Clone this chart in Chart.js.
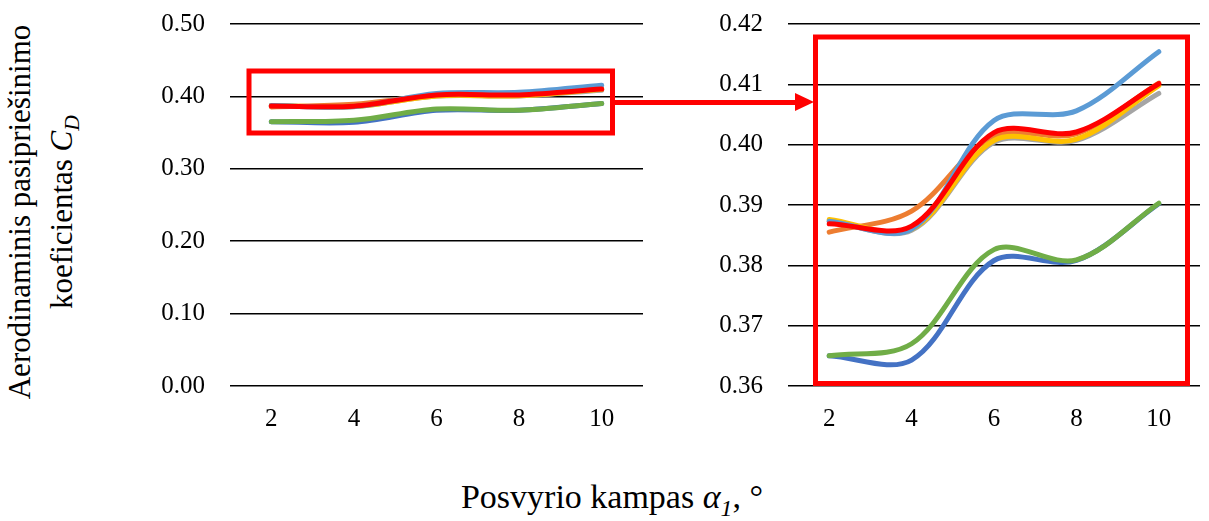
<!DOCTYPE html>
<html>
<head>
<meta charset="utf-8">
<script src="https://cdn.jsdelivr.net/npm/chart.js@4"></script>
<style>
  body { margin: 0; background: #fff; }
  #wrap { position: relative; width: 1209px; height: 521px; overflow: hidden; font-family: 'Liberation Serif', 'Times New Roman', serif; }
  canvas { position: absolute; top: -16px; }
  #left { left: 130px; }
  #right { left: 690px; }
  .ytitle {
    position: absolute; left: 46px; top: 212px; width: 460px;
    transform: translate(-50%, -50%) rotate(-90deg);
    text-align: center; font-size: 31px; line-height: 42px; color: #000;
  }
  .xtitle {
    position: absolute; left: 612px; top: 500px; transform: translate(-50%, -50%);
    font-size: 34px; color: #000; white-space: nowrap;
  }
  .arrow-line { position: absolute; left: 612px; top: 100px; width: 186px; height: 5px; background: #ff0000; }
  .arrow-head {
    position: absolute; left: 795px; top: 93px; width: 0; height: 0;
    border-top: 9.5px solid transparent; border-bottom: 9.5px solid transparent;
    border-left: 19px solid #ff0000;
  }
</style>
</head>
<body>
<div id="wrap">
  <canvas id="left" width="530" height="466"></canvas>
  <canvas id="right" width="519" height="466"></canvas>
  <div class="arrow-line"></div>
  <div class="arrow-head"></div>
  <div class="ytitle">Aerodinaminis pasipriešinimo<br>koeficientas <i>C<sub style="font-size:0.7em">D</sub></i></div>
  <div class="xtitle">Posvyrio kampas <i>α<sub style="font-size:0.7em">1</sub></i>, °</div>
</div>
<script>
// Kategorijos (posvyrio kampas)
const angles = ['2', '4', '6', '8', '10'];

// Serijų reikšmės (nuskaityta nuo paveikslo)
const seriesBlue      = [0.3650, 0.3643, 0.3808, 0.3808, 0.3902];
const seriesOrange    = [0.3855, 0.3890, 0.4015, 0.4018, 0.4102];
const seriesGray      = [0.3873, 0.3858, 0.4004, 0.4007, 0.4085];
const seriesYellow    = [0.3876, 0.3860, 0.4007, 0.4009, 0.4098];
const seriesLightBlue = [0.3873, 0.3860, 0.4040, 0.4056, 0.4154];
const seriesGreen     = [0.3650, 0.3670, 0.3826, 0.3809, 0.3903];
const seriesRed       = [0.3869, 0.3865, 0.4020, 0.4021, 0.4101];

// Ašių ribos
const leftTicks  = [0, 0.5, 0.1];
const rightTicks = [0.36, 0.42, 0.01];

Chart.defaults.font.family = "'Liberation Serif', 'Times New Roman', serif";
Chart.defaults.font.size = 25;
Chart.defaults.color = '#000';

function makeDatasets() {
    // pirmas datasetas piešiamas viršuje, todėl raudona pirma
    const list = [
        [seriesRed, '#ff0000'],
        [seriesGreen, '#70ad47'],
        [seriesLightBlue, '#5b9bd5'],
        [seriesYellow, '#ffc000'],
        [seriesGray, '#a5a5a5'],
        [seriesOrange, '#ed7d31'],
        [seriesBlue, '#4472c4']
    ];
    return list.map(([data, color]) => ({
        data: data,
        borderColor: color,
        borderWidth: 5,
        pointRadius: 0,
        tension: 0.33,
        borderCapStyle: 'round',
        borderJoinStyle: 'round',
        fill: false
    }));
}

// raudonas rėmelis (pagal grafiko sritį)
function boxPlugin(dl, dr, dt, db) {
    return {
        id: 'box',
        afterDatasetsDraw(chart) {
            const a = chart.chartArea;
            const ctx = chart.ctx;
            ctx.save();
            ctx.strokeStyle = '#ff0000';
            ctx.lineWidth = 5;
            ctx.strokeRect(a.left + dl, a.top + dt, (a.right - dr) - (a.left + dl), (a.bottom - db) - (a.top + dt));
            ctx.restore();
        }
    };
}

function makeChart(id, ticks, yWidth, rightPad, box) {
    new Chart(document.getElementById(id), {
        type: 'line',
        data: { labels: angles, datasets: makeDatasets() },
        options: {
            responsive: false,
            animation: false,
            layout: { padding: { top: 8, right: rightPad, left: 0, bottom: 0 } },
            plugins: { legend: { display: false }, tooltip: { enabled: false } },
            scales: {
                x: {
                    offset: true,
                    grid: { display: false, drawTicks: false },
                    border: { display: false },
                    ticks: { padding: 18, maxRotation: 0 },
                    afterFit: s => { s.height = 64; }
                },
                y: {
                    min: ticks[0], max: ticks[1],
                    grid: { color: '#000', lineWidth: 1.6, drawTicks: false },
                    border: { display: false },
                    ticks: { stepSize: ticks[2], padding: 25, callback: v => v.toFixed(2) },
                    afterFit: s => { s.width = yWidth; }
                }
            }
        },
        plugins: [box]
    });
}

makeChart('left', leftTicks, 100, 17, boxPlugin(19, 30.5, 47, 253));
makeChart('right', rightTicks, 98, 9, boxPlugin(27.5, 12.5, 13, 2.5));
</script>
</body>
</html>
